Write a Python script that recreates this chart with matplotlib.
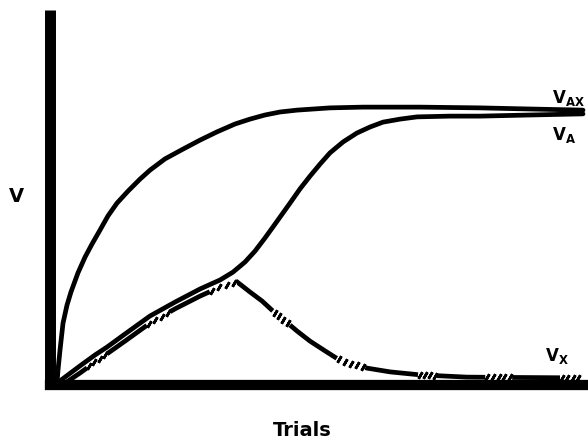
import numpy as np
import matplotlib
matplotlib.use("Agg")
import matplotlib.pyplot as plt

# values: trials (0-100) and associative strength (0-1)
t_ax = [1.30, 1.49, 1.86, 2.42, 3.16, 3.90, 5.20, 6.51, 7.81, 9.29, 10.78, 12.45,
        14.50, 16.73, 18.59, 21.38, 24.72, 27.88, 31.04, 34.39, 37.17, 39.96,
        42.75, 45.91, 52.04, 58.18, 68.77, 79.93, 89.22, 99.07]
v_ax = [0.005, 0.040, 0.093, 0.165, 0.213, 0.248, 0.299, 0.341, 0.376, 0.413,
        0.451, 0.485, 0.517, 0.549, 0.573, 0.603, 0.629, 0.653, 0.675, 0.696,
        0.709, 0.720, 0.728, 0.733, 0.739, 0.741, 0.741, 0.739, 0.736, 0.733]

t_a = [1.12, 2.79, 5.58, 8.36, 10.59, 13.94, 18.59, 23.23, 27.88, 31.60, 34.01,
       36.25, 38.10, 39.96, 41.82, 44.61, 46.47, 48.33, 50.19, 52.04, 54.46,
       57.06, 59.48, 61.90, 65.06, 68.22, 74.35, 79.93, 89.22, 99.07]
v_a = [0.003, 0.021, 0.051, 0.080, 0.101, 0.136, 0.184, 0.221, 0.256, 0.280,
       0.301, 0.328, 0.357, 0.392, 0.429, 0.485, 0.523, 0.557, 0.589, 0.619,
       0.648, 0.672, 0.688, 0.701, 0.709, 0.715, 0.717, 0.717, 0.720, 0.723]

t_x = [1.30, 2.79, 5.58, 8.36, 10.59, 13.94, 18.59, 23.23, 27.88, 31.60, 34.76,
       37.17, 39.41, 41.45, 43.68, 45.91, 48.33, 51.12, 53.53, 56.13, 58.92,
       63.20, 68.77, 77.51, 87.36, 98.51]
v_x = [0.002, 0.005, 0.032, 0.061, 0.083, 0.117, 0.165, 0.203, 0.237, 0.261,
       0.275, 0.248, 0.224, 0.197, 0.171, 0.144, 0.117, 0.091, 0.069, 0.056,
       0.045, 0.035, 0.027, 0.021, 0.020, 0.019]

# stretches of the V_X line drawn as hatching
hatch_spans = [(6.9, 10.6), (18.0, 22.3), (29.7, 34.6), (41.4, 44.6),
               (53.3, 58.6), (68.4, 71.9), (80.9, 85.9), (94.8, 98.5)]

fig = plt.figure(figsize=(5.88, 4.42), dpi=100)
ax = fig.add_axes([50 / 588, 57 / 442, 538 / 588, 375 / 442])
ax.set_xlim(0, 100)
ax.set_ylim(0, 1)
ax.set_xticks([])
ax.set_yticks([])
for s in ['top', 'right']:
    ax.spines[s].set_visible(False)
ax.spines['left'].set_linewidth(7.9)
ax.spines['bottom'].set_linewidth(7.4)
ax.spines['left'].set_capstyle('butt')
ax.spines['bottom'].set_capstyle('projecting')
ax.spines['left'].set_zorder(5)
ax.spines['bottom'].set_zorder(5)

lw = 3.4
ax.plot(t_x, v_x, color='black', lw=lw, solid_capstyle='butt',
        solid_joinstyle='miter', zorder=2)

for a, b in hatch_spans:
    tt = np.linspace(a, b, 25)
    vv = np.interp(tt, t_x, v_x)
    ax.plot(tt, vv, color='white', lw=lw + 1.2, solid_capstyle='butt', zorder=2.1)
    n = max(4, int(round((b - a) / 1.1)))
    tk = np.linspace(a + 0.4, b - 0.4, n)
    ax.plot(tk, np.interp(tk, t_x, v_x), ls='none', marker=(2, 2, -30),
            ms=5.4, mew=1.9, color='black', zorder=2.2)

ax.plot(t_a, v_a, color='black', lw=lw, solid_capstyle='round',
        solid_joinstyle='round', zorder=3)
ax.plot(t_ax, v_ax, color='black', lw=lw, solid_capstyle='round',
        solid_joinstyle='round', zorder=3)


def px(x, y):
    return x / 588, 1 - y / 442


fig.text(*px(16, 196), 'V', ha='center', va='center', fontsize=14, fontweight='bold')
fig.text(*px(302, 431), 'Trials', ha='center', va='center', fontsize=14, fontweight='bold')
fig.text(*px(552, 103), r'V$_{\mathbf{AX}}$', ha='left', va='baseline', fontsize=12, fontweight='bold')
fig.text(*px(552, 140), r'V$_{\mathbf{A}}$', ha='left', va='baseline', fontsize=12, fontweight='bold')
fig.text(*px(545, 361), r'V$_{\mathbf{X}}$', ha='left', va='baseline', fontsize=12, fontweight='bold')

fig.savefig('out.png', dpi=100)
